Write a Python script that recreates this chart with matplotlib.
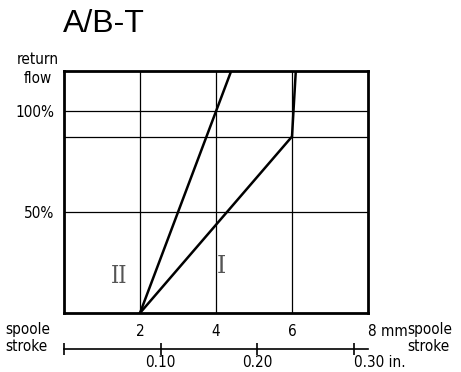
import matplotlib
matplotlib.use("Agg")
import matplotlib.pyplot as plt
from matplotlib import font_manager
from matplotlib.font_manager import FontProperties

# spool stroke (mm) vs. return flow (%)
curve_I_x = [2.0, 6.0, 6.1]
curve_I_y = [0.0, 87.5, 120.0]
curve_II_x = [2.0, 4.4]
curve_II_y = [0.0, 120.0]

mm_ticks = [2, 4, 6, 8]
mm_labels = ["2", "4", "6", "8 mm"]
flow_ticks = [50, 87.5, 100]
flow_labels = ["50%", "", "100%"]
inch_ticks = [0.0, 0.10, 0.20, 0.30]
inch_labels = ["", "0.10", "0.20", "0.30 in."]


def narrow_font(size):
    """Pick a condensed sans face if one is installed."""
    cands = []
    for f in font_manager.fontManager.ttflist:
        st = str(f.stretch).lower()
        if "condensed" in st or "narrow" in f.name.lower() or "condensed" in f.name.lower() \
                or "condensed" in f.fname.lower() or "narrow" in f.fname.lower():
            if "bold" in f.fname.lower() or "oblique" in f.fname.lower() or "italic" in f.fname.lower():
                continue
            cands.append(f)
    if cands:
        cands.sort(key=lambda f: (0 if "dejavu" in f.fname.lower() else 1, f.fname))
        return FontProperties(fname=cands[0].fname, size=size)
    return FontProperties(family="DejaVu Sans", size=size - 1)


TF = narrow_font(11)

W, H = 461, 372
fig = plt.figure(figsize=(W / 100, H / 100), dpi=100)

left, right, top, bottom = 64, 368, 71, 313
ax = fig.add_axes([left / W, 1 - bottom / H, (right - left) / W, (bottom - top) / H])
ax.set_xlim(0, 8)
ax.set_ylim(0, 120)

for x in mm_ticks[:-1]:
    ax.axvline(x, color="black", lw=0.9, zorder=1)
for y in flow_ticks:
    ax.axhline(y, color="black", lw=0.9, zorder=1)

ax.plot(curve_I_x, curve_I_y, color="black", lw=1.8, zorder=3, solid_joinstyle="miter")
ax.plot(curve_II_x, curve_II_y, color="black", lw=1.8, zorder=3)

for s in ax.spines.values():
    s.set_linewidth(2)

ax.set_xticks(mm_ticks)
ax.set_xticklabels(mm_labels)
ax.set_yticks(flow_ticks)
ax.set_yticklabels(flow_labels)
ax.tick_params(length=0, pad=7)
ax.tick_params(axis="x", pad=8)
for lab in ax.get_xticklabels() + ax.get_yticklabels():
    lab.set_fontproperties(TF)
# keep "8" near its gridline, unit trailing after it
ax.get_xticklabels()[-1].set_horizontalalignment("left")
ax.get_xticklabels()[-1].set_x(7.85)

ax.text(1.45, 18, "II", fontsize=17, family="DejaVu Serif", color="#555555",
        ha="center", va="center", fontstretch="condensed")
ax.text(4.15, 23, "I", fontsize=17, family="DejaVu Serif", color="#555555",
        ha="center", va="center")

# inch scale below the mm axis
inch_y = 349
ax2 = fig.add_axes([left / W, 1 - inch_y / H, (right - left) / W, 0.0001])
ax2.set_xlim(0, 8 / 25.4)
for k in ["top", "left", "right"]:
    ax2.spines[k].set_visible(False)
ax2.spines["bottom"].set_linewidth(1.2)
ax2.set_yticks([])
ax2.set_xticks(inch_ticks)
ax2.set_xticklabels(inch_labels)
ax2.tick_params(axis="x", direction="inout", length=8, width=1.2, pad=0)
for lab in ax2.get_xticklabels():
    lab.set_fontproperties(TF)
ax2.get_xticklabels()[-1].set_horizontalalignment("left")
ax2.get_xticklabels()[-1].set_x(0.30 - 0.0062)

fig.text(63 / W, 1 - 24 / H, "A/B-T", fontsize=23, family="Liberation Sans",
         ha="left", va="center")
fig.text(38 / W, 1 - 69 / H, "return\nflow", fontproperties=TF,
         ha="center", va="center", linespacing=1.35)
fig.text(5 / W, 1 - 338 / H, "spoole\nstroke", fontproperties=TF,
         ha="left", va="center", linespacing=1.2)
fig.text(407 / W, 1 - 338 / H, "spoole\nstroke", fontproperties=TF,
         ha="left", va="center", linespacing=1.2)

fig.savefig("out.png", dpi=100)
